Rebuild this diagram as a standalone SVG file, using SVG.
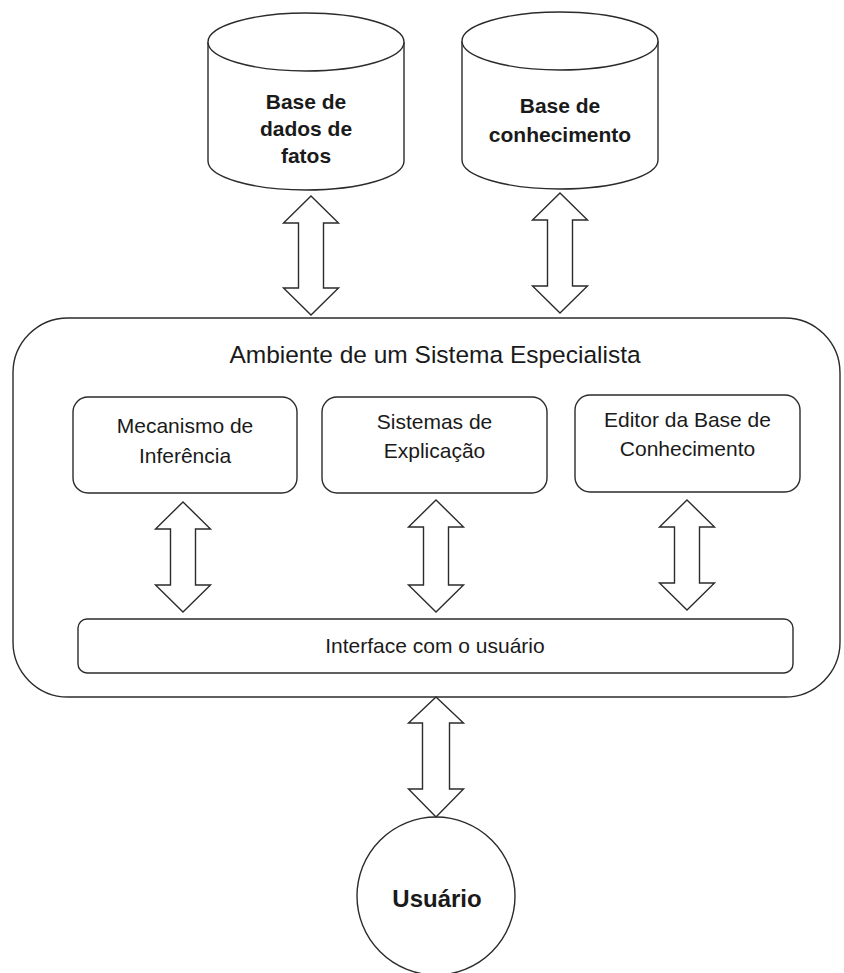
<svg xmlns="http://www.w3.org/2000/svg" width="844" height="973" viewBox="0 0 844 973">
  <style>
    .shape { fill: #ffffff; stroke: #2b2b2b; stroke-width: 1.4; }
    .arrow { fill: #ffffff; stroke: #2b2b2b; stroke-width: 1.4; stroke-linejoin: miter; }
    .label { font-family: "Liberation Sans", Arial, sans-serif; font-size: 21px; fill: #1a1a1a; text-anchor: middle; }
    .bold { font-weight: bold; }
    .title { font-size: 24.5px; }
    .big { font-size: 24px; }
  </style>
  <rect width="844" height="973" fill="#ffffff"/>

  <!-- Fact database (cylinder) -->
  <g id="base-dados-fatos">
    <path class="shape" d="M208,42 A98,29 0 0 1 404,42 V161 A98,29 0 0 1 208,161 Z"/>
    <path class="shape" fill="none" d="M208,42 A98,29 0 0 0 404,42"/>
    <text class="label bold" x="306" y="109">Base de</text>
    <text class="label bold" x="306" y="136">dados de</text>
    <text class="label bold" x="306" y="163">fatos</text>
  </g>

  <!-- Knowledge base (cylinder) -->
  <g id="base-conhecimento">
    <path class="shape" d="M462,41 A98,29 0 0 1 658,41 V160 A98,29 0 0 1 462,160 Z"/>
    <path class="shape" fill="none" d="M462,41 A98,29 0 0 0 658,41"/>
    <text class="label bold" x="560" y="113">Base de</text>
    <text class="label bold" x="560" y="142">conhecimento</text>
  </g>

  <!-- Expert system environment -->
  <g id="ambiente">
    <rect class="shape" x="13" y="318" width="827" height="379" rx="55" ry="55"/>
    <text class="label title" x="435" y="363">Ambiente de um Sistema Especialista</text>
  </g>

  <g id="mecanismo-inferencia">
    <rect class="shape" x="73" y="397" width="224" height="96" rx="15" ry="15"/>
    <text class="label" x="185" y="433">Mecanismo de</text>
    <text class="label" x="185" y="463">Inferência</text>
  </g>

  <g id="sistemas-explicacao">
    <rect class="shape" x="322" y="397" width="225" height="96" rx="15" ry="15"/>
    <text class="label" x="434.5" y="429">Sistemas de</text>
    <text class="label" x="434.5" y="458">Explicação</text>
  </g>

  <g id="editor-base">
    <rect class="shape" x="575" y="395" width="225" height="97" rx="15" ry="15"/>
    <text class="label" x="687.5" y="427">Editor da Base de</text>
    <text class="label" x="687.5" y="456">Conhecimento</text>
  </g>

  <g id="interface-usuario">
    <rect class="shape" x="78" y="619" width="715" height="54" rx="9" ry="9"/>
    <text class="label" x="435" y="653">Interface com o usuário</text>
  </g>

  <g id="usuario">
    <circle class="shape" cx="436" cy="896" r="79"/>
    <text class="label bold big" x="437" y="907">Usuário</text>
  </g>

  <!-- Two-way block arrows -->
  <g id="connectors">
    <polygon class="arrow" points="311,196 338.5,223 323.5,223 323.5,288 338.5,288 311,315 283.5,288 298.5,288 298.5,223 283.5,223"/>
    <polygon class="arrow" points="560,193 587.5,220 572.5,220 572.5,286 587.5,286 560,313 532.5,286 547.5,286 547.5,220 532.5,220"/>
    <polygon class="arrow" points="183,502 210.5,529 195.5,529 195.5,585 210.5,585 183,612 155.5,585 170.5,585 170.5,529 155.5,529"/>
    <polygon class="arrow" points="436,500 463.5,527 448.5,527 448.5,585 463.5,585 436,612 408.5,585 423.5,585 423.5,527 408.5,527"/>
    <polygon class="arrow" points="687,500 714.5,527 699.5,527 699.5,583 714.5,583 687,610 659.5,583 674.5,583 674.5,527 659.5,527"/>
    <polygon class="arrow" points="436,697 463.5,723 449.5,723 449.5,789 463.5,789 436,817 408.5,789 422.5,789 422.5,723 408.5,723"/>
  </g>
</svg>
